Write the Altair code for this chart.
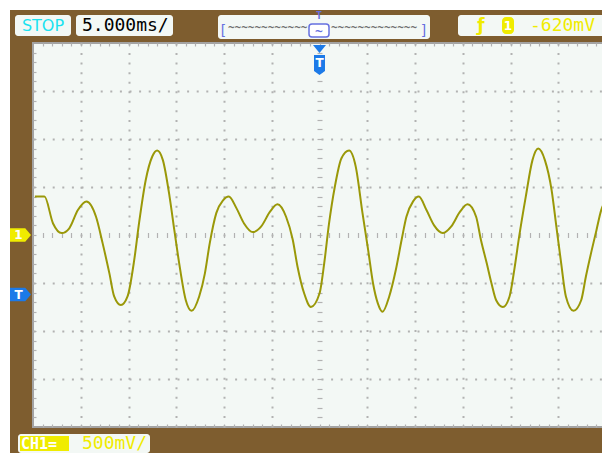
import altair as alt
import pandas as pd

# ---- waveform (time in ms, voltage in V) ----
times = [-29.8, -28.8, -27.9, -27.0, -26.2, -25.3, -24.4, -23.4, -22.7, -22.0,
         -21.5, -20.8, -20.1, -19.4, -18.9, -18.2, -17.5, -17.0, -16.4, -15.7,
         -15.2, -14.7, -14.0, -13.4, -12.6, -12.0, -11.5, -10.8, -10.1, -9.5,
         -8.7, -7.9, -7.0, -6.1, -5.2, -4.4, -3.5, -2.8, -2.3, -1.6,
         -0.9, 0.0, 0.5, 1.0, 1.6, 2.3, 3.1, 3.8, 4.5, 5.1,
         5.6, 6.1, 6.6, 7.3, 8.0, 8.6, 9.1, 9.8, 10.4, 11.2,
         12.0, 12.9, 13.8, 14.7, 15.5, 16.4, 16.9, 17.5, 18.0, 18.5,
         19.2, 19.9, 20.4, 20.9, 21.6, 22.3, 22.9, 23.6, 24.3, 24.8,
         25.3, 25.8, 26.6, 27.4, 27.9, 28.5, 29.0, 29.5, 30.0]
volts = [0.40, 0.40, 0.12, 0.02, 0.07, 0.26, 0.35, 0.19, -0.09, -0.40,
         -0.64, -0.73, -0.64, -0.26, 0.12, 0.57, 0.82, 0.88, 0.78, 0.40,
         0.05, -0.29, -0.68, -0.79, -0.64, -0.40, -0.09, 0.23, 0.36, 0.40,
         0.28, 0.12, 0.03, 0.09, 0.24, 0.32, 0.19, -0.05, -0.33, -0.61,
         -0.75, -0.61, -0.29, 0.12, 0.50, 0.80, 0.88, 0.71, 0.23, -0.16,
         -0.50, -0.71, -0.80, -0.64, -0.36, -0.05, 0.19, 0.35, 0.40, 0.26,
         0.10, 0.02, 0.09, 0.24, 0.32, 0.19, -0.05, -0.29, -0.50, -0.68,
         -0.75, -0.64, -0.36, -0.02, 0.40, 0.78, 0.90, 0.78, 0.47, 0.09,
         -0.29, -0.64, -0.79, -0.68, -0.43, -0.16, 0.05, 0.26, 0.36]

# ---- screen grid (12 x 8 divisions, 5 ms/div, 500 mV/div) ----
x_domain = [-30, 30]
y_domain = [-2, 2]
div_x = [-25, -20, -15, -10, -5, 5, 10, 15, 20, 25]
div_y = [-1.5, -1.0, -0.5, 0.5, 1.0, 1.5]
minor_x = list(range(-29, 30))
minor_y = [round(i * 0.1, 1) for i in range(-19, 20)]

# ---- status texts ----
run_state = "STOP"
time_label = "5.000ms/"
trig_label = "-620mV"
ch_name = "CH1="
ch_label = "500mV/"
trig_level = -0.62
ground_level = 0.0

W, H = 573, 384
BROWN = "#7e5d2f"
PANEL = "#f3f8f5"
GRID = "#b2b2b2"
WAVE = "#9a9808"
YEL = "#f0ec00"
BLUE = "#1c7ae8"
LAV = "#6670e0"
CYAN = "#19e2f0"

wave = pd.DataFrame({"t": times, "v": volts})
one = pd.DataFrame({"k": [0]})

xs = alt.Scale(domain=x_domain, nice=False, zero=False)
ys = alt.Scale(domain=y_domain, nice=False, zero=False)


def ax(**kw):
    base = dict(domain=False, labels=False, title=None, grid=False, ticks=False)
    base.update(kw)
    return alt.Axis(**base)


def tick_layer(xaxis, yaxis):
    return alt.Chart(wave).mark_point(opacity=0).encode(
        x=alt.X("t:Q", scale=xs, axis=xaxis),
        y=alt.Y("v:Q", scale=ys, axis=yaxis),
    )


tk = dict(ticks=True, tickColor=GRID, tickWidth=1.2)

grid_line = alt.Chart(wave).mark_line(
    color=WAVE, strokeWidth=2, interpolate="monotone", clip=True
).encode(
    x=alt.X("t:Q", scale=xs, axis=ax(values=div_x, grid=True, gridDash=[2, 7.55],
                                     gridColor=GRID, gridWidth=2)),
    y=alt.Y("v:Q", scale=ys, axis=ax(values=div_y, grid=True, gridDash=[2, 7.6],
                                     gridColor=GRID, gridWidth=2)),
)

center_ticks = tick_layer(
    ax(orient="bottom", offset=-(H / 2 + 2.5), values=minor_x, tickSize=5, **tk),
    ax(orient="left", offset=-(W / 2 + 2.5), values=minor_y, tickSize=5, **tk),
)
edge_a = tick_layer(
    ax(orient="bottom", offset=-H, values=minor_x, tickSize=3, **tk),
    ax(orient="right", offset=-W, values=minor_y, tickSize=3, **tk),
)
edge_b = tick_layer(
    ax(orient="top", offset=-H, values=minor_x, tickSize=3, **tk),
    ax(orient="left", offset=-W, values=minor_y, tickSize=3, **tk),
)


def box(x1, y1, x2, y2, fill, r=3, stroke=None, sw=1):
    kw = dict(cornerRadius=r, fill=fill)
    if stroke:
        kw.update(stroke=stroke, strokeWidth=sw)
    return alt.Chart(one).mark_rect(**kw).encode(
        x=alt.value(x1), x2=alt.value(x2), y=alt.value(y1), y2=alt.value(y2))


def label(text, x, y, color, size, font="DejaVu Sans Mono", align="left", weight="normal"):
    return alt.Chart(one).mark_text(
        text=text, align=align, baseline="middle", color=color, fontSize=size,
        font=font, fontWeight=weight,
    ).encode(x=alt.value(x), y=alt.value(y))


ARROW = "M-1,-0.65L0.45,-0.65L1,0L0.45,0.65L-1,0.65Z"
TRI = "M-1,-0.6L1,-0.6L0,0.6Z"
SHIELD = "M-0.55,-1L0.55,-1L0.55,0.6L0,1L-0.55,0.6Z"


def level_marker(level, color, txt):
    m = alt.Chart(one).mark_point(shape=ARROW, size=441, filled=True, color=color,
                                  opacity=1, strokeWidth=0).encode(
        x=alt.value(-12.5), y=alt.Y(datum=level, scale=ys, axis=None))
    t = alt.Chart(one).mark_text(text=txt, color="white", fontSize=12, fontWeight="bold",
                                 font="DejaVu Sans", align="center", baseline="middle").encode(
        x=alt.value(-14.5), y=alt.Y(datum=level, scale=ys, axis=None))
    return [m, t]


trig_tri = alt.Chart(one).mark_point(shape=TRI, size=169, filled=True, color=BLUE,
                                     opacity=1, strokeWidth=0).encode(
    x=alt.X(datum=0, scale=xs, axis=None), y=alt.value(6))
trig_shield = alt.Chart(one).mark_point(shape=SHIELD, size=400, filled=True, color=BLUE,
                                        opacity=1, strokeWidth=0).encode(
    x=alt.X(datum=0, scale=xs, axis=None), y=alt.value(22))
trig_t = alt.Chart(one).mark_text(text="T", color="white", fontSize=12, fontWeight="bold",
                                  font="DejaVu Sans", align="center", baseline="middle").encode(
    x=alt.X(datum=0, scale=xs, axis=None), y=alt.value(20))

deco = [
    # white page strip (screen starts 2px inside)
    box(-25, -35, -23, 420, "white", r=0),
    box(-25, -35, 580, -33, "white", r=0),
    # top status row
    box(-18, -28, 38, -7, PANEL),
    label(run_state, 10, -17.5, CYAN, 16, font="DejaVu Sans", align="center"),
    box(43, -28, 140, -7, PANEL),
    label(time_label, 49, -17.5, "black", 18),
    box(185, -28, 397, -4, PANEL),
    label("~" * 12, 195, -15, "#707070", 11, weight="bold"),
    label("~" * 13, 298, -15, "#707070", 11, weight="bold"),
    box(276, -19, 296, -6, "white", r=3, stroke=LAV, sw=1.5),
    label("~", 286, -12, LAV, 13, align="center", weight="bold"),
    label("T", 286, -27, LAV, 10, align="center", weight="bold"),
    label("[", 190, -12.5, LAV, 14, align="center"),
    label("]", 391, -12.5, LAV, 14, align="center"),
    box(425, -28, 580, -7, PANEL),
    label("ƒ", 448, -17.5, YEL, 17, font="DejaVu Sans", align="center", weight="bold"),
    box(469, -26, 481, -9, YEL, r=4),
    label("1", 475, -17.5, "white", 12, font="DejaVu Sans", align="center", weight="bold"),
    label(trig_label, 497, -17.5, YEL, 18),
    # bottom channel row
    box(-15, 391, 117, 410, PANEL),
    box(-13, 393, 36, 408, YEL, r=0),
    label(ch_name, -12, 400.5, "white", 15, weight="bold"),
    label(ch_label, 49, 400.5, YEL, 18),
    trig_tri, trig_shield, trig_t,
]
deco += level_marker(ground_level, YEL, "1")
deco += level_marker(trig_level, BLUE, "T")

chart = alt.layer(grid_line, center_ticks, edge_a, edge_b, *deco).properties(
    width=W, height=H,
    padding={"left": 25, "top": 35, "right": -4, "bottom": 26},
    autosize=alt.AutoSizeParams(type="none"),
    background=BROWN,
).resolve_axis(x="independent", y="independent").configure_view(
    fill=PANEL, stroke="#a3a3a3", strokeWidth=2
)

chart.save("out.html", embed_options={"renderer": "svg", "actions": False})
